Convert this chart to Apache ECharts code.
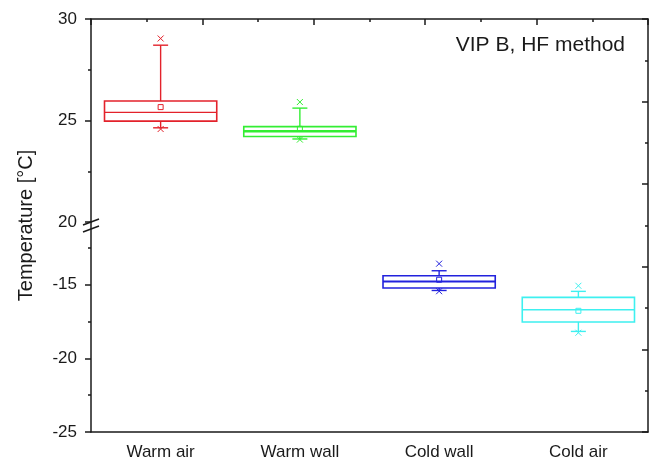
<!DOCTYPE html>
<html>
<head>
<meta charset="utf-8">
<script src="https://cdn.jsdelivr.net/npm/echarts@6/dist/echarts.min.js"></script>
<style>
  html, body { margin: 0; padding: 0; background: #fff; }
  #chart { width: 659px; height: 465px; }
</style>
</head>
<body>
<div id="chart"></div>
<script>
// Box statistics per measuring position (°C)
const categories   = ['Warm air', 'Warm wall', 'Cold wall', 'Cold air'];
const minValues    = [24.58, 24.06, -15.44, -18.26];
const whiskerLow   = [24.64, 24.09, -15.39, -18.17];
const q1Values     = [24.97, 24.21, -15.22, -17.53];
const medianValues = [25.40, 24.47, -14.78, -16.70];
const q3Values     = [25.96, 24.70, -14.39, -15.86];
const whiskerHigh  = [28.71, 25.61, -14.05, -15.45];
const maxValues    = [29.04, 25.91, -13.57, -15.07];
const meanValues   = [25.66, 24.59, -14.66, -16.77];

// Broken temperature axis: upper and lower segments
const upperRange = [20, 30];
const lowerRange = [-25, -10.74];
const lowerMajorTicks = [-25, -20, -15];
const lowerMinorTicks = [-22.5, -17.5, -12.5];

const colors = ['#e3222b', '#33ee33', '#2222dd', '#3ef0f0'];
const medianWidths = [1.2, 2.6, 2, 1.6];
const FONT = '"Liberation Sans", Arial, sans-serif';

const rows = categories.map((c, i) => [
  i, minValues[i], whiskerLow[i], q1Values[i], medianValues[i],
  q3Values[i], whiskerHigh[i], maxValues[i], meanValues[i]
]);
const upperRows = rows.filter(r => r[4] >= upperRange[0]);
const lowerRows = rows.filter(r => r[4] < upperRange[0]);

function renderBox(params, api) {
  const i = api.value(0);
  const py = k => api.coord([i, api.value(k)])[1];
  const xc = api.coord([i, api.value(4)])[0];
  const band = api.size([1, 0])[0];
  const half = band * 0.403;
  const cap = 7.5;
  const mk = 3;
  const color = colors[i];
  const yMin = py(1), yWl = py(2), yQ1 = py(3), yMed = py(4),
        yQ3 = py(5), yWh = py(6), yMax = py(7), yMean = py(8);
  const line = (x1, y1, x2, y2, w) => ({
    type: 'line', shape: { x1, y1, x2, y2 },
    style: { stroke: color, lineWidth: w || 1.4, fill: null }
  });
  const cross = (y) => [
    line(xc - mk, y - mk, xc + mk, y + mk, 1),
    line(xc - mk, y + mk, xc + mk, y - mk, 1)
  ];
  return {
    type: 'group',
    children: [
      { type: 'rect', shape: { x: xc - half, y: yQ3, width: 2 * half, height: yQ1 - yQ3 },
        style: { stroke: color, lineWidth: 1.6, fill: null } },
      line(xc - half, yMed, xc + half, yMed, medianWidths[i]),
      line(xc, yQ3, xc, yWh),
      line(xc, yQ1, xc, yWl),
      line(xc - cap, yWh, xc + cap, yWh),
      line(xc - cap, yWl, xc + cap, yWl),
      { type: 'rect', shape: { x: xc - 2.5, y: yMean - 2.5, width: 5, height: 5 },
        style: { stroke: color, lineWidth: 1, fill: null } },
      ...cross(yMax),
      ...cross(yMin)
    ]
  };
}

const chart = echarts.init(document.getElementById('chart'), null, { renderer: 'canvas' });
const axisLineStyle = { color: '#1a1a1a', width: 1.5 };
const frameLine = { show: true, onZero: false, lineStyle: axisLineStyle };
const labelStyle = { fontFamily: FONT, fontSize: 17, color: '#1a1a1a' };

chart.setOption({
  animation: false,
  backgroundColor: '#ffffff',
  grid: [
    { left: 91, right: 11, top: 19, height: 203 },
    { left: 91, right: 11, top: 222, height: 210 },
    { left: 91, right: 11, top: 19, height: 413 }
  ],
  xAxis: [
    { gridIndex: 0, type: 'category', data: categories, boundaryGap: true,
      axisLine: { show: false, onZero: false }, axisTick: { show: false }, axisLabel: { show: false } },
    { gridIndex: 1, type: 'category', data: categories, boundaryGap: true,
      axisLine: frameLine,
      axisTick: { alignWithLabel: true, length: 6, lineStyle: axisLineStyle },
      axisLabel: Object.assign({ margin: 12 }, labelStyle) },
    { gridIndex: 2, type: 'value', position: 'top', min: 0, max: 5, interval: 1,
      axisLine: frameLine,
      axisTick: { inside: true, length: 6, lineStyle: axisLineStyle },
      minorTick: { show: true, splitNumber: 2, length: 3, lineStyle: axisLineStyle },
      axisLabel: { show: false }, splitLine: { show: false } }
  ],
  yAxis: [
    { gridIndex: 0, type: 'value', min: upperRange[0], max: upperRange[1], interval: 5,
      axisLine: frameLine,
      axisTick: { show: true, length: 6, lineStyle: axisLineStyle },
      minorTick: { show: true, splitNumber: 2, length: 3, lineStyle: axisLineStyle },
      axisLabel: Object.assign({ margin: 14 }, labelStyle),
      splitLine: { show: false } },
    { gridIndex: 1, type: 'value', min: lowerRange[0], max: lowerRange[1],
      axisLine: frameLine,
      axisTick: { show: true, length: 6, customValues: lowerMajorTicks, lineStyle: axisLineStyle },
      axisLabel: Object.assign({ margin: 14, customValues: lowerMajorTicks }, labelStyle),
      splitLine: { show: false } },
    { gridIndex: 1, type: 'value', position: 'left', min: lowerRange[0], max: lowerRange[1],
      axisLine: { show: false, onZero: false },
      axisTick: { show: true, length: 3, customValues: lowerMinorTicks, lineStyle: axisLineStyle },
      axisLabel: { show: false }, splitLine: { show: false } },
    { gridIndex: 2, type: 'value', position: 'right', min: 0, max: 5, interval: 1,
      axisLine: frameLine,
      axisTick: { inside: true, length: 6, lineStyle: axisLineStyle },
      minorTick: { show: true, splitNumber: 2, length: 3, lineStyle: axisLineStyle },
      axisLabel: { show: false }, splitLine: { show: false } },
    { gridIndex: 2, type: 'value', position: 'left', min: 0, max: 1,
      name: 'Temperature [°C]', nameLocation: 'middle', nameGap: 55,
      nameTextStyle: { fontFamily: FONT, fontSize: 20, color: '#1a1a1a' },
      axisLine: { show: false, onZero: false }, axisTick: { show: false },
      axisLabel: { show: false }, splitLine: { show: false } }
  ],
  series: [
    { type: 'custom', name: 'warm', xAxisIndex: 0, yAxisIndex: 0,
      renderItem: renderBox, data: upperRows, encode: { x: 0, y: [1, 7] } },
    { type: 'custom', name: 'cold', xAxisIndex: 1, yAxisIndex: 1,
      renderItem: renderBox, data: lowerRows, encode: { x: 0, y: [1, 7] } }
  ]
});

// Annotation and axis-break marks where the two segments meet
const breakY = chart.convertToPixel({ yAxisIndex: 0 }, upperRange[0]);
const axisX = 91;
chart.setOption({
  graphic: [
    { type: 'text', right: 34, top: 35,
      style: { text: 'VIP B, HF method', font: '21px ' + FONT, fill: '#1a1a1a' } },
    { type: 'line', shape: { x1: axisX - 8, y1: breakY + 3, x2: axisX + 8, y2: breakY - 3 },
      style: { stroke: '#1a1a1a', lineWidth: 1.5 } },
    { type: 'line', shape: { x1: axisX - 8, y1: breakY + 10, x2: axisX + 8, y2: breakY + 4 },
      style: { stroke: '#1a1a1a', lineWidth: 1.5 } }
  ]
});
</script>
</body>
</html>
